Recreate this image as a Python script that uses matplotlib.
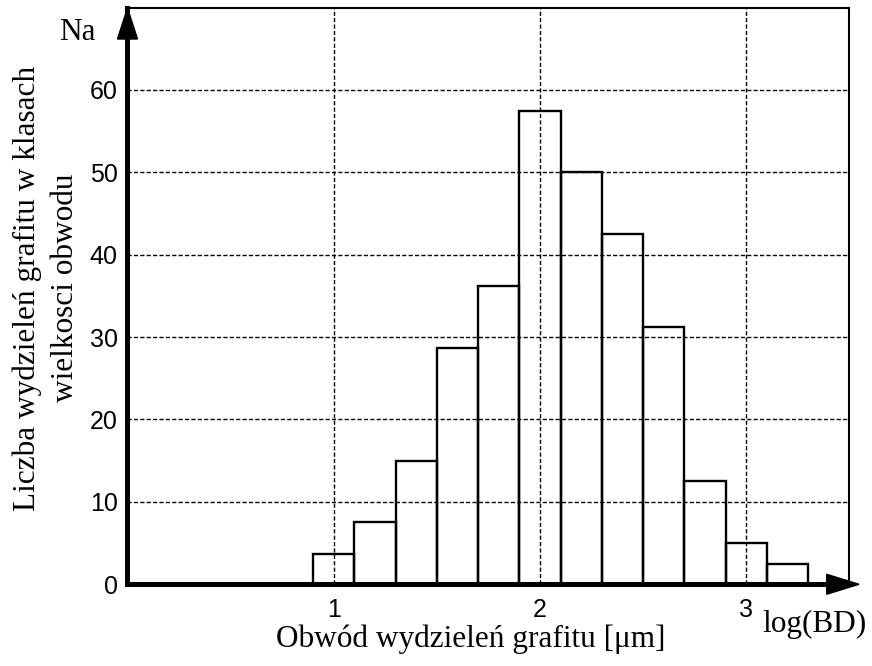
import numpy as np
import matplotlib
matplotlib.use('Agg')
import matplotlib.pyplot as plt
import matplotlib.patches as mpatches

# histogram classes (left edges in log(BD)) and counts
bin_left = [0.9, 1.1, 1.3, 1.5, 1.7, 1.9, 2.1, 2.3, 2.5, 2.7, 2.9, 3.1]
counts = [3.7, 7.5, 15.0, 28.7, 36.2, 57.5, 50.0, 42.5, 31.2, 12.5, 5.0, 2.5]
bin_width = 0.2
xticks = [1, 2, 3]
yticks = [0, 10, 20, 30, 40, 50, 60]

serif = 'Liberation Serif'
sans = 'Liberation Sans'
fs = 22.5

fig = plt.figure(figsize=(8.72, 6.66), dpi=100)
ax = fig.add_axes([0.1462, 0.1227, 0.8278, 0.8660])
ax.set_xlim(0, 3.5)
ax.set_ylim(0, 70)

ax.bar(bin_left, counts, width=bin_width, align='edge', fill=False,
       edgecolor='black', linewidth=1.7, zorder=2)

ax.set_xticks(xticks)
ax.set_yticks(yticks)
ax.set_axisbelow(True)
ax.grid(True, color='black', linewidth=1.0, linestyle=(0, (3, 1.6)))
ax.tick_params(length=0, labelsize=18)
ax.tick_params(axis='x', pad=10)
ax.tick_params(axis='y', pad=7)
for lab in ax.get_xticklabels() + ax.get_yticklabels():
    lab.set_fontfamily(sans)

for side in ['top', 'right']:
    ax.spines[side].set_linewidth(1.5)
for side in ['left', 'bottom']:
    ax.spines[side].set_linewidth(3.6)
    ax.spines[side].set_zorder(4)

# axis arrows
ax.plot([0.99, 0.975], [0, 0], color='black', lw=3.6, transform=ax.transAxes,
        clip_on=False, solid_capstyle='butt', zorder=4)
xhead = mpatches.Polygon([[1.0134, 0.0], [0.9687, 0.0173], [0.9687, -0.0173]],
                         closed=True, color='black', transform=ax.transAxes,
                         clip_on=False, zorder=5)
yhead = mpatches.Polygon([[0.0, 0.9991], [-0.01385, 0.9454], [0.01385, 0.9454]],
                         closed=True, color='black', transform=ax.transAxes,
                         clip_on=False, zorder=5)
ax.add_patch(xhead)
ax.add_patch(yhead)

ax.text(-0.33, 66.1, 'Na', family=serif, fontsize=fs, ha='left', va='baseline')
ax.text(3.079, -5.8, 'log(BD)', family=serif, fontsize=fs, ha='left',
        va='baseline', clip_on=False)

ax.set_xlabel('Obwód wydzieleń grafitu [μm]', family=serif, fontsize=fs,
              va='baseline')
ax.xaxis.set_label_coords(0.475, -0.1087)
ax.text(-0.1122, 0.5137, 'Liczba wydzieleń grafitu w klasach\nwielkosci obwodu',
        family=serif, fontsize=fs, rotation=90, ha='center', va='center',
        multialignment='center', linespacing=1.4, transform=ax.transAxes)

fig.savefig('out.png', dpi=100)
